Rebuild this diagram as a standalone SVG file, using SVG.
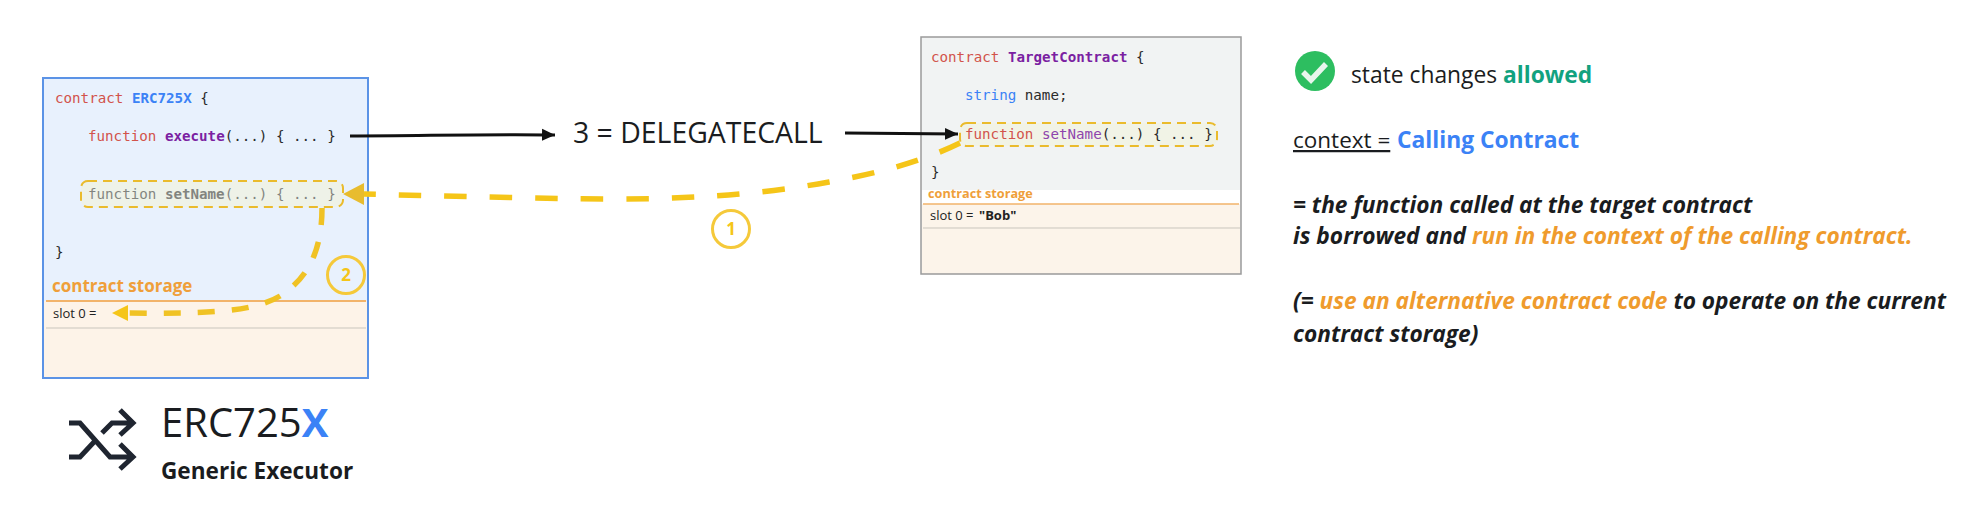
<svg xmlns="http://www.w3.org/2000/svg" width="1980" height="505" viewBox="0 0 1980 505">
<style>
.m{font-family:"DejaVu Sans Mono","Liberation Mono",monospace;font-size:14.2px;fill:#2b2b2b}
.o{font-family:"Open Sans","Liberation Sans",sans-serif;fill:#1a1c20}
.kw{fill:#d2534b}.b{font-weight:700}.pur{fill:#7b1fa2}.blue{fill:#3b82f6}
.st{font-weight:700;fill:#ef9f3a}.slot{font-size:13px;fill:#222}
.bi{font-size:22.7px;font-weight:700;font-style:italic}
.or{fill:#ef9b2d}
.dash{fill:#eef2e8;stroke:#eabb2c;stroke-width:2;stroke-dasharray:9 6}
.blk{fill:none;stroke:#111;stroke-width:3}
.yel{fill:none;stroke:#f5c518;stroke-width:5.5}
.logo{fill:none;stroke:#1f2530;stroke-width:5}
.num{fill:none;stroke:#f5c93a;stroke-width:3}
.numt{font-family:"Open Sans",sans-serif;font-weight:700;font-size:17px;fill:#f5c518;text-anchor:middle}
</style>
<defs>
<marker id="ab" markerUnits="userSpaceOnUse" markerWidth="14" markerHeight="14" refX="13" refY="7" orient="auto"><path d="M0 1L13 7L0 13Z" fill="#111"/></marker>
</defs>
<g id="erc725x-box">
<rect x="43" y="78" width="325" height="300" fill="#e8f1fd"/>
<rect x="43" y="301" width="325" height="77" fill="#fdf3e8"/>
<line x1="46" y1="301" x2="366" y2="301" stroke="#f2b36a" stroke-width="2"/>
<line x1="46" y1="328" x2="366" y2="328" stroke="#c9c5bd" stroke-width="1"/>
<rect x="43" y="78" width="325" height="300" fill="none" stroke="#5b93e6" stroke-width="2"/>
<text class="m" x="55" y="103"><tspan class="kw">contract</tspan> <tspan class="blue b">ERC725X</tspan> {</text>
<text class="m" x="88" y="141"><tspan class="kw">function</tspan> <tspan class="pur b">execute</tspan>(...) { ... }</text>
<rect class="dash" x="81" y="181" width="262" height="26" rx="7"/>
<text class="m" x="88" y="199" opacity="0.55">function <tspan class="b">setName</tspan>(...) { ... }</text>
<text class="m" x="55" y="257">}</text>
<text class="o st" x="52" y="292" font-size="17">contract storage</text>
<text class="o slot" x="53" y="318">slot 0 =</text>
</g>
<g id="target-box">
<rect x="921" y="37" width="320" height="237" fill="#f1f3f3"/>
<rect x="922" y="190" width="318" height="14" fill="#fff"/>
<rect x="922" y="204" width="318" height="70" fill="#fcf4ea"/>
<line x1="923" y1="204" x2="1239" y2="204" stroke="#f2b36a" stroke-width="1.5"/>
<line x1="923" y1="228" x2="1240" y2="228" stroke="#c9c5bd" stroke-width="1"/>
<rect x="921" y="37" width="320" height="237" fill="none" stroke="#9a9a9a" stroke-width="1.5"/>
<text class="m" x="931" y="62"><tspan class="kw">contract</tspan> <tspan class="pur b">TargetContract</tspan> {</text>
<text class="m" x="965" y="100"><tspan class="blue">string</tspan> name;</text>
<rect class="dash" x="960" y="123" width="257" height="23" rx="7" style="fill:#f1f3e6"/>
<text class="m" x="965" y="139"><tspan class="kw">function</tspan> <tspan fill="#8e44ad">setName</tspan>(...) { ... }</text>
<text class="m" x="931" y="177">}</text>
<text class="o st" x="928" y="198" font-size="12.7">contract storage</text>
<text class="o slot" x="930" y="220">slot 0 =</text>
<text class="o slot b" x="979" y="220">"Bob"</text>
</g>
<g id="connectors">
<path class="blk" d="M350 136C420 136 480 134 555 135" marker-end="url(#ab)"/>
<path class="blk" d="M845 133L958 134" marker-end="url(#ab)"/>
<path class="yel" stroke-dasharray="22.5 23" d="M960 143C925 160 885 172 829 182C790 189 740 196 660 198.5C600 200 520 198 364 194"/>
<path d="M343 194L364 183V205Z" fill="#e8bc2e"/>
<path class="yel" stroke-dasharray="17 17" d="M322 208C322 255 305 280 280 296C255 311 215 314 128 313" style="stroke:#f0c224"/>
<path d="M112 313L128 305V321Z" fill="#f5c518"/>
</g>
<g id="label-delegatecall"><text class="o" x="573" y="143" font-size="28.4">3 = DELEGATECALL</text></g>
<g id="step-1"><circle class="num" cx="731" cy="229" r="18.5"/><text class="numt" x="731" y="235">1</text></g>
<g id="step-2"><circle class="num" cx="346" cy="275" r="18.5"/><text class="numt" x="346" y="281">2</text></g>
<g id="logo">
<path class="logo" d="M69 423H80L110 457H133M120 444L133 457L120 469M69 457H80L94 442M102 433L112 423H133M120 410L133 423L120 435"/>
<text class="o" x="161" y="437" font-size="40">ERC725<tspan class="blue b">X</tspan></text>
<text class="o" x="161" y="479" font-size="22.6" font-weight="700">Generic Executor</text>
</g>
<g id="notes">
<circle cx="1315" cy="71" r="20" fill="#2dbe60"/>
<path d="M1303 72L1311 80L1326 64" fill="none" stroke="#e8f5ec" stroke-width="5.5"/>
<text class="o" x="1351" y="83" font-size="22.8">state changes <tspan font-weight="700" fill="#12a27f">allowed</tspan></text>
<text class="o" x="1293" y="148" font-size="22.5" text-decoration="underline">context =</text>
<text class="o blue b" x="1397" y="148" font-size="22.8">Calling Contract</text>
<text class="o bi" x="1293" y="213">= the function called at the target contract</text>
<text class="o bi" x="1293" y="244">is borrowed and <tspan class="or">run in the context of the calling contract.</tspan></text>
<text class="o bi" x="1293" y="309">(= <tspan class="or">use an alternative contract code</tspan> to operate on the current</text>
<text class="o bi" x="1293" y="342">contract storage)</text>
</g>
</svg>
